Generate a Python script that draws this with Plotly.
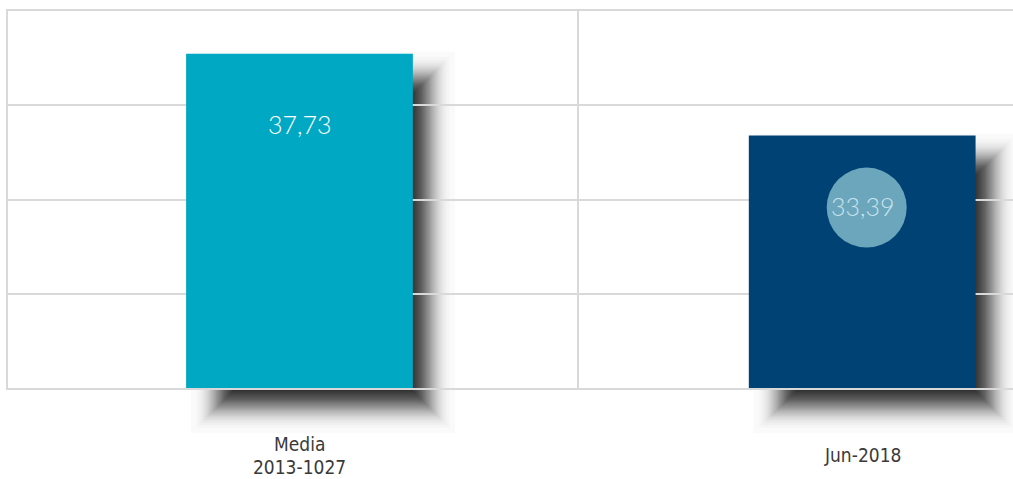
import plotly.graph_objects as go
from statistics import NormalDist

# ---- data ----
categories = ["Media<br>2013-1027", "Jun-2018"]
values = [37.73, 33.39]
value_labels = ["37,73", "33,39"]
bar_colors = ["#00a8c3", "#004273"]
label_colors = ["#ffffff", "#c6e3ec"]
y_min, y_max = 20, 40
y_ticks = [20, 25, 30, 35, 40]

# ---- layout geometry ----
W, H = 1013, 479
ML, MR, MT, MB = 8, 0, 11, 91
x_range = [-0.518, 1.268]
bar_width = 0.403
plot_w = W - ML - MR
plot_h = H - MT - MB
ppu_x = plot_w / (x_range[1] - x_range[0])

def to_paper(v):
    return (v - y_min) / (y_max - y_min)

xs = list(range(len(categories)))

fig = go.Figure()

# soft drop shadow: stacked translucent rects approximating a gaussian blur
shapes = []
sh_left, sh_right, sh_top, sh_bottom = 32, 15, 25, 18   # px offsets of the 50% contour
sigma, Tmax, N = 12.0, 0.76, 80
alpha = 1 - (1 - Tmax) ** (1 / N)
nd = NormalDist()
expansions = []
for k in range(1, N + 1):
    t = 1 - (1 - alpha) ** (k - 0.5)
    p = min(max(1 - t / Tmax, 1e-4), 1 - 1e-4)
    expansions.append(max(sigma * nd.inv_cdf(p), -3 * sigma))
for xi, v in zip(xs, values):
    left = xi - bar_width / 2
    right = xi + bar_width / 2
    for e in expansions:
        shapes.append(dict(type="rect", xref="x", yref="paper",
                           x0=left + (sh_left - e) / ppu_x,
                           x1=right + (sh_right + e) / ppu_x,
                           y0=to_paper(y_min) - (sh_bottom + e) / plot_h,
                           y1=to_paper(v) - (sh_top - e) / plot_h,
                           fillcolor="black", opacity=alpha,
                           line=dict(width=0), layer="below"))

fig.add_trace(go.Bar(x=xs, y=[v - y_min for v in values], base=y_min,
                     width=bar_width, marker=dict(color=bar_colors, line=dict(width=0)),
                     hoverinfo="skip"))

shapes.append(dict(type="circle", xref="x", yref="y", xsizemode="pixel", ysizemode="pixel",
                   xanchor=xs[1] + 0.008, yanchor=values[1], x0=-40, x1=40, y0=-112, y1=-32,
                   fillcolor="#6ba6bd", line=dict(width=0), layer="above"))

annotations = []
for xi, v, lab, c in zip(xs, values, value_labels, label_colors):
    annotations.append(dict(x=xi, y=v, xref="x", yref="y", text=lab, showarrow=False,
                            yshift=-70, yanchor="middle",
                            font=dict(family="Lato", size=25, color=c, weight=300)))
for xi, cat in zip(xs, categories):
    lines = cat.split("<br>")
    n = len(lines)
    for j, ln in enumerate(lines):
        annotations.append(dict(x=xi, y=0, xref="x", yref="paper", text=ln, showarrow=False,
                                yanchor="middle", yshift=-(67 + (j - (n - 1) / 2) * 23),
                                font=dict(family="DejaVu Sans Condensed, Open Sans", size=19,
                                          color="#3a3a3a")))

fig.update_layout(
    width=W, height=H, margin=dict(l=ML, r=MR, t=MT, b=MB),
    paper_bgcolor="white", plot_bgcolor="rgba(0,0,0,0)",
    showlegend=False, shapes=shapes, annotations=annotations,
    xaxis=dict(range=x_range, tickvals=[0.495], showticklabels=False, showgrid=True,
               gridcolor="#d9d9d9", gridwidth=1.5, zeroline=False, showline=True, mirror=True,
               linecolor="#d9d9d9", linewidth=1.5, ticks=""),
    yaxis=dict(range=[y_min, y_max], tickvals=y_ticks, showticklabels=False, showgrid=True,
               gridcolor="#d9d9d9", gridwidth=1.5, zeroline=False, showline=True,
               linecolor="#d9d9d9", linewidth=2, ticks=""),
)

fig.write_html("out.html", config={"displayModeBar": False},
               post_script="document.body.style.margin='0';document.body.style.overflow='hidden';")
